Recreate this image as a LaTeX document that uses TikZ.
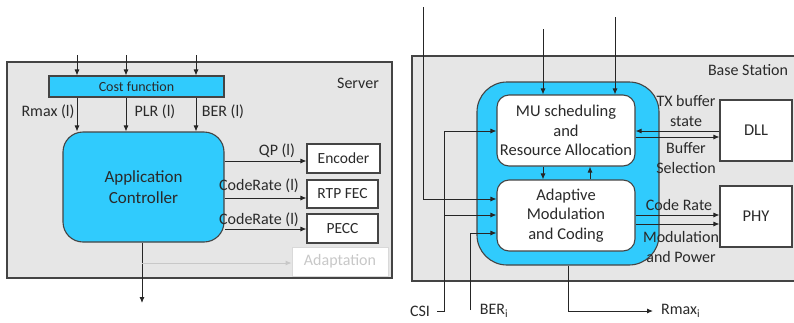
\documentclass[tikz,border=0pt]{standalone}
\usepackage{fontspec}
\setmainfont{Carlito}
\usetikzlibrary{arrows.meta}
\definecolor{cyanfill}{HTML}{30CBFD}
\definecolor{panelgray}{HTML}{E6E6E6}
\definecolor{edgecol}{HTML}{444444}
\definecolor{txtcol}{HTML}{2A2A2A}
\definecolor{faint}{HTML}{C8C8C8}
\tikzset{
  panel/.style={draw=edgecol, fill=panelgray, line width=1.3pt, inner sep=0},
  block/.style={draw=edgecol, fill=white, line width=1.1pt, text=txtcol, inner sep=0, align=center,
    font=\fontsize{15.5}{19.5}\selectfont},
  cyanblock/.style={draw=edgecol, fill=cyanfill, line width=1.1pt, text=txtcol, inner sep=0, align=center,
    font=\fontsize{17}{21}\selectfont},
  lbl/.style={text=txtcol, inner sep=0, align=center, font=\fontsize{16}{20}\selectfont},
  arr/.style={-{Latex[length=6pt,width=5pt]}, line width=0.9pt, draw=black!85},
}
\begin{document}
\begin{tikzpicture}[x=1pt,y=-1pt]
\useasboundingbox (0,0) rectangle (794,322);

% ---------------- Server side ----------------
\node[panel, minimum width=385, minimum height=216] (server) at (199.5,170) {};
\node[lbl] (servertxt) at (358,83) {Server};

\node[cyanblock, minimum width=175, minimum height=21, font=\fontsize{14}{16}\selectfont] (cost) at (136.5,86.5) {Cost function};
\node[cyanblock, rounded corners=20, minimum width=161, minimum height=110] (ac) at (143.5,187) {Application\\Controller};

\node[block, minimum width=73, minimum height=29] (enc) at (343.5,158.5) {Encoder};
\node[block, minimum width=71, minimum height=28] (rtp) at (342.5,194) {RTP FEC};
\node[block, minimum width=71, minimum height=29] (pecc) at (342.5,228.5) {PECC};
\node[block, draw=faint!70, text=faint, minimum width=96, minimum height=29, line width=0.9pt, font=\fontsize{16}{20}\selectfont] (adapt) at (340,261.5) {Adaptation};

% inputs of the cost function
\coordinate (inA) at (77,55);
\coordinate (inB) at (126,55);
\coordinate (inC) at (196,55);
\draw[arr] (inA) -- (inA |- cost.north);
\draw[arr] (inB) -- (inB |- cost.north);
\draw[arr] (inC) -- (inC |- cost.north);

% cost function to controller
\draw[arr] (inA |- cost.south) -- (inA |- ac.north);
\draw[arr] (inB |- cost.south) -- (inB |- ac.north);
\draw[arr] (inC |- cost.south) -- (inC |- ac.north);
\node[lbl] (lrmax) at (48,112) {Rmax (l)};
\node[lbl] (lplr) at (155,112) {PLR (l)};
\node[lbl] (lber) at (223,112) {BER (l)};

% controller outputs
\draw[arr] (ac.east |- 0,161) -- (enc.west |- 0,161);
\draw[arr] (ac.east |- 0,198) -- (rtp.west |- 0,198);
\draw[arr] (ac.east |- 0,229) -- (pecc.west |- 0,229);
\node[lbl] (lqp) at (277,151) {QP (l)};
\node[lbl] (lcr1) at (259,186) {CodeRate (l)};
\node[lbl] (lcr2) at (259,220) {CodeRate (l)};

\coordinate (down) at (142,303);
\draw[arr] (ac.south -| down) -- (down);
\draw[-{Latex[length=6pt,width=5pt]}, line width=0.9pt, draw=faint] (down |- 0,263) -- (adapt.west |- 0,263);

% ---------------- Base station side ----------------
\node[panel, minimum width=384, minimum height=225] (bs) at (604,168.5) {};
\node[lbl] (bstxt) at (748,70) {Base Station};

\node[cyanblock, rounded corners=30, minimum width=182, minimum height=183] (outer) at (568,173.5) {};
\node[block, rounded corners=12, minimum width=138, minimum height=71, font=\fontsize{16.5}{19.5}\selectfont] (mu) at (566,130.5) {MU scheduling\\and\\Resource Allocation};
\node[block, rounded corners=12, minimum width=138, minimum height=71, font=\fontsize{16.5}{19.5}\selectfont] (amc) at (566,215.5) {Adaptive\\Modulation\\and Coding};

\node[block, minimum width=72, minimum height=61, font=\fontsize{16.5}{20}\selectfont] (dll) at (756,130.5) {DLL};
\node[block, minimum width=72, minimum height=61, font=\fontsize{16.5}{20}\selectfont] (phy) at (756,216.5) {PHY};

% inputs from above
\coordinate (topL) at (423,7);
\coordinate (topM) at (543,29);
\coordinate (topR) at (615,17);
\draw[arr] (topL) |- (amc.west |- 0,199);
\draw[arr] (topM) -- (topM |- mu.north);
\draw[arr] (topR) -- (topR |- mu.north);

% between the two inner blocks
\draw[arr] (topM |- mu.south) -- (topM |- amc.north);
\coordinate (upx) at (590,0);
\draw[arr] (upx |- amc.north) -- (upx |- mu.south);

% CSI and BER inputs
\node[lbl] (csi) at (420,311) {CSI};
\coordinate (csiA) at (437,311);
\coordinate (csiB) at (444,311);
\draw[arr] (csiA) -- (csiB) |- (mu.west |- 0,131);
\draw[arr] (csiB |- 0,215) -- (amc.west |- 0,215);
\node[lbl] (ber) at (494,311) {BER\textsubscript{i}};
\coordinate (berA) at (470,310);
\draw[arr] (berA) |- (amc.west |- 0,233);

% Rmax output
\coordinate (rmaxEnd) at (653,311);
\draw[arr] (outer.south) |- (rmaxEnd);
\node[lbl, anchor=west] (rmax) at (661,311) {Rmax\textsubscript{i}};

% DLL and PHY links
\draw[arr] (dll.west |- 0,131) -- (mu.east |- 0,131);
\draw[arr] (mu.east |- 0,137) -- (dll.west |- 0,137);
\draw[arr] (amc.east |- 0,215) -- (phy.west |- 0,215);
\draw[arr] (amc.east |- 0,224) -- (phy.west |- 0,224);

\node[lbl] (ltx) at (686,111) {TX buffer\\state};
\node[lbl] (lbuf) at (686,158) {Buffer\\Selection};
\node[lbl] (lcode) at (679,205) {Code Rate};
\node[lbl] (lmod) at (681,247) {Modulation\\and Power};
\end{tikzpicture}
\end{document}
